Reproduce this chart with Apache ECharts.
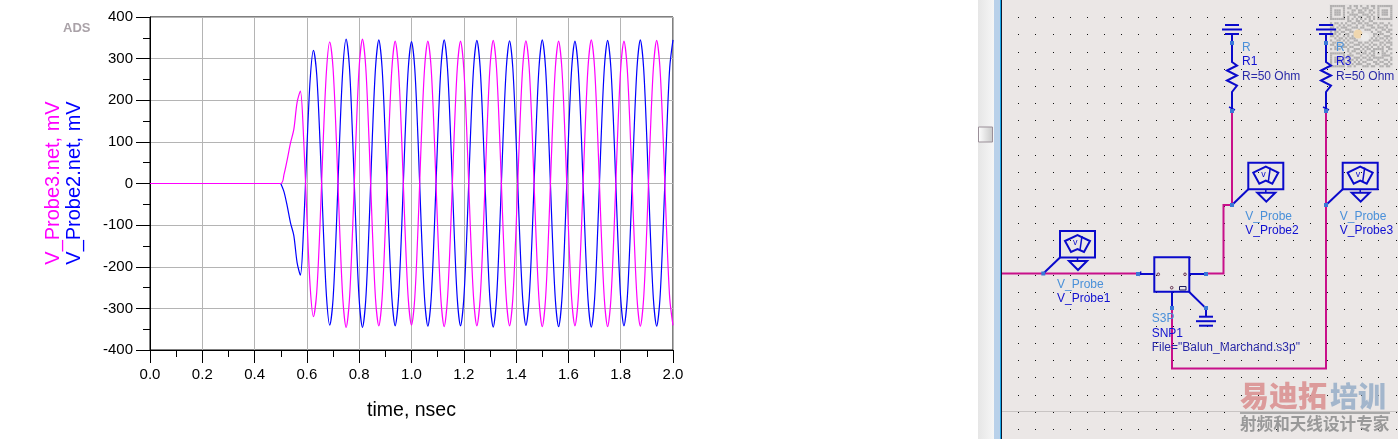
<!DOCTYPE html>
<html>
<head>
<meta charset="utf-8">
<style>html,body{margin:0;padding:0;background:#fff}#c{width:1398px;height:439px}</style>
<script src="https://cdn.jsdelivr.net/npm/echarts@6/dist/echarts.min.js"></script>
</head>
<body>
<div id="c"></div>
<script>
const xTicks = [0, 0.2, 0.4, 0.6, 0.8, 1, 1.2, 1.4, 1.6, 1.8, 2];
const timeNs = [0,
0.5,0.5125,0.525,0.5375,0.55,0.5625,0.575,0.5875,0.6,0.6125,
0.625,0.6375,0.65,0.6625,0.675,0.6875,0.7,0.7125,0.725,0.7375,
0.75,0.7625,0.775,0.7875,0.8,0.8125,0.825,0.8375,0.85,0.8625,
0.875,0.8875,0.9,0.9125,0.925,0.9375,0.95,0.9625,0.975,0.9875,
1,1.0125,1.025,1.0375,1.05,1.0625,1.075,1.0875,1.1,1.1125,
1.125,1.1375,1.15,1.1625,1.175,1.1875,1.2,1.2125,1.225,1.2375,
1.25,1.2625,1.275,1.2875,1.3,1.3125,1.325,1.3375,1.35,1.3625,
1.375,1.3875,1.4,1.4125,1.425,1.4375,1.45,1.4625,1.475,1.4875,
1.5,1.5125,1.525,1.5375,1.55,1.5625,1.575,1.5875,1.6,1.6125,
1.625,1.6375,1.65,1.6625,1.675,1.6875,1.7,1.7125,1.725,1.7375,
1.75,1.7625,1.775,1.7875,1.8,1.8125,1.825,1.8375,1.85,1.8625,
1.875,1.8875,1.9,1.9125,1.925,1.9375,1.95,1.9625,1.975,1.9875,
2];
const probe2mV = [0,
0,-20,-55,-95,-125,-190,-220,-105,85,250,
320,262,102,-104,-272,-340,-278,-108,104,276,
347,281,107,-107,-280,-346,-280,-107,107,279,
345,278,106,-105,-275,-342,-277,-106,105,275,
341,276,105,-106,-277,-343,-278,-106,106,278,
345,278,106,-105,-276,-342,-277,-106,106,278,
344,279,106,-107,-279,-345,-278,-106,106,277,
343,277,105,-105,-275,-341,-276,-106,106,278,
345,279,106,-106,-278,-344,-279,-107,106,276,
342,277,106,-107,-279,-345,-279,-106,106,278,
344,277,105,-105,-276,-342,-277,-106,107,279,
345,279,106,-106,-277,-343,-278,-106,106,279,
345];
const probe3mV = [0,
0,22,58,98,130,195,222,108,-80,-248,
-320,-262,-101,104,272,340,277,107,-105,-278,
-346,-280,-107,107,281,347,280,106,-106,-278,
-342,-276,-105,105,276,342,277,106,-106,-276,
-340,-275,-105,106,277,342,278,106,-106,-278,
-344,-277,-106,105,276,342,276,105,-105,-276,
-342,-277,-106,106,278,344,278,106,-106,-277,
-342,-276,-105,106,277,343,278,106,-106,-278,
-344,-278,-106,106,277,342,277,106,-106,-277,
-342,-277,-106,106,279,345,279,106,-106,-278,
-344,-278,-106,105,276,342,276,105,-106,-277,
-343,-278,-106,106,278,344,279,107,-106,-276,
-341];
const qrRows = [
"11111110010110100101101111111",
"10000010110010011100101000001",
"10111010001101101011001011101",
"10111010101001110010101011101",
"10111010011110011101001011101",
"10000010100101100110101000001",
"11111110101010101010101111111",
"00000000110011010011000000000",
"10110101001101101100110110010",
"01001010110010010111001001101",
"11010111001110110001101110100",
"00101001110001001110010011011",
"10110110011010000001001100110",
"01101001100100000000110110001",
"11010010101000000000101001110",
"00101101011100000001010110101",
"10011010100110000010111001010",
"01100101011001101101000110111",
"11011010100111010010110101001",
"00100111011000101101001010110",
"10111000100111010110111110011",
"00000000101100101001100010100",
"11111110010011011010101011001",
"10000010111000100101100011110",
"10111010100111011010111110001",
"10111010011010100111001001101",
"10111010110101011000110110010",
"10000010001011100110011001101",
"11111110110100011101100110110"];

const W = '#0a0acb', M = '#c8108a', LB = '#4a90d9', TB = '#1010d0', NB = '#3a78d8', DK = '#2a2aa8';
const g = [];
function poly(pts, color, w) { g.push({type:'polyline', silent:true, z:20, shape:{points:pts}, style:{stroke:color, lineWidth:w||2, fill:null}}); }
function box(x,y,w,h,fill,stroke,lw,z) { g.push({type:'rect', silent:true, z:z||20, shape:{x,y,width:w,height:h}, style:{fill:fill||'none', stroke:stroke||null, lineWidth:lw||0}}); }
function txt(x,y,s,color,size,extra) { g.push({type:'text', silent:true, z:(extra&&extra.z)||25, x, y, rotation:(extra&&extra.rot)||0, style:Object.assign({text:s, fill:color, font:(extra&&extra.font)||(size+'px "Liberation Sans"'), textVerticalAlign:'middle', textAlign:(extra&&extra.align)||'left'})}); }

// panel backgrounds
g.push({type:'rect', silent:true, z:1, shape:{x:978,y:0,width:16,height:439}, style:{fill:{type:'linear',x:0,y:0,x2:1,y2:0,colorStops:[{offset:0,color:'#e6e6e6'},{offset:1,color:'#f6f6f6'}]}}});
box(994,0,6,439,'#b9d1ea',null,0,1);
box(1000,0,1,439,'#18a8e8',null,0,1);
box(1001,0,1,439,'#101830',null,0,1);
box(1002,0,396,439,'#ebe7e6',null,0,1);
g.push({type:'rect', silent:true, z:2, shape:{x:978.5,y:127,width:14,height:15}, style:{fill:{type:'linear',x:0,y:0,x2:1,y2:0,colorStops:[{offset:0,color:'#ffffff'},{offset:1,color:'#c8c8c8'}]}, stroke:'#9a8f98', lineWidth:1}});
box(1002,411,396,1,'#c8c4c3',null,0,2);
// QR watermark
box(1329,4,64,66,'#e6e3e2',null,0,2);
qrRows.forEach((r,i)=>{ for(let j=0;j<r.length;j++){ if(r[j]==='1') box(1330+j*2.15,5+i*2.15,2.15,2.15,'#b2b0b0',null,0,3); } });
g.push({type:'circle', silent:true, z:4, shape:{cx:1358,cy:34,r:4.5}, style:{fill:'#efd6ae'}});
g.push({type:'circle', silent:true, z:4, shape:{cx:1365,cy:37,r:4}, style:{fill:'#ecebea'}});
// dot grid
for (let x=1018.3; x<1398; x+=17.15) for (let y=17.3; y<439; y+=17.15) box(Math.round(x),Math.round(y),1,1,'#111',null,0,5);

function ground(cx, y0) {
  poly([[cx-7,y0],[cx+7,y0]],W,2); poly([[cx-10,y0+4.5],[cx+10,y0+4.5]],W,2); poly([[cx-7,y0+9],[cx+7,y0+9]],W,2);
}
function resistor(cx, sym, sub) {
  ground(cx,25);
  poly([[cx,34],[cx,62],[cx+5,65.5],[cx-5,70.5],[cx+5,75.5],[cx-5,80.5],[cx+5,85.5],[cx,92],[cx,109]],W,2);
  poly([[cx-3,107],[cx+3,110]],W,1.5);
  box(cx-2,41,4,4,NB); box(cx-2,109,4,4,NB);
  txt(cx+10,48,'R',LB,12); txt(cx+10,62,sub,TB,12); txt(cx+10,77,'R=50 Ohm',DK,12);
}
function probe(bx, by, nx, ny, name) {
  box(bx,by,35,26.5,null,W,2);
  poly([[bx,by+26.5],[nx,ny]],W,2);
  poly([[bx+17.5,by+26.5],[bx+17.5,by+30]],W,1.5);
  g.push({type:'polygon',silent:true,z:20,shape:{points:[[bx+9,by+30],[bx+27,by+30],[bx+18,by+39]]},style:{fill:'none',stroke:W,lineWidth:2}});
  g.push({type:'polygon',silent:true,z:20,shape:{points:[[bx+5,by+10],[bx+17.5,by+4],[bx+30,by+10],[bx+24,by+21],[bx+17.5,by+18],[bx+11,by+21]]},style:{fill:'none',stroke:W,lineWidth:2}});
  poly([[bx+22,by+5],[bx+20,by+19]],W,1.5);
  txt(bx+13,by+12,'v',W,9);
  box(nx-2,ny-2,4,4,NB);
  txt(bx-3,by+54,'V_Probe',LB,12); txt(bx-3,by+68,name,TB,12);
}
// magenta wires
poly([[1232,111],[1232,205],[1223.5,205],[1223.5,273.5],[1206,273.5]],M,2);
poly([[1326,111],[1326,368.5],[1172,368.5],[1172,308]],M,2);
poly([[1002,273.5],[1136.5,273.5]],M,2);
resistor(1232,'R','R1');
resistor(1326,'R','R3');
probe(1248.3,162.7,1232,205,'V_Probe2');
probe(1342.7,162.7,1326,205,'V_Probe3');
probe(1060,231,1043.3,273.5,'V_Probe1');
// S3P block
box(1154.3,257.3,35,34.4,null,W,2);
poly([[1136.5,274],[1154,274]],W,2);
poly([[1189,274],[1206,274]],W,2);
poly([[1172,291.7],[1172,308]],W,2);
poly([[1189,291.7],[1206,308.3],[1206,316]],W,2);
ground(1206,316.7);
poly([[1139,276],[1141,271.5]],W,1.5);
[[1158.3,274.3],[1185,274.3],[1171.7,287.7]].forEach(p=>g.push({type:'circle',silent:true,z:21,shape:{cx:p[0],cy:p[1],r:1.3},style:{fill:'none',stroke:'#603050',lineWidth:1}}));
box(1179.5,286.5,6.5,3.5,null,'#1a1a60',1);
[[1136,272],[1204,272],[1170,306],[1204,306]].forEach(p=>box(p[0],p[1],4,4,NB));
txt(1151.7,319,'S3P',LB,12); txt(1151.7,333.5,'SNP1',TB,12); txt(1151.7,347.5,'File="Balun_Marchand.s3p"',DK,12);
// brand watermark
const brand = '"Noto Sans CJK SC"';
txt(1240,396,'易迪拓','#dc9b9b',0,{font:'900 29px '+brand,z:26});
txt(1330,396,'培训','#a3b6cc',0,{font:'900 28px '+brand,z:26});
box(1240,412,150,2,'#a8a8a8',null,0,26);
txt(1240,424,'射频和天线设计专家','#999999',0,{font:'700 16.6px '+brand,z:26});
// chart decorations
txt(63,28,'ADS','#aaa2a8',0,{font:'bold 13px "Liberation Sans"'});
txt(53,183,'V_Probe3.net, mV','#ff00ff',20,{rot:Math.PI/2,align:'center'});
txt(74,183,'V_Probe2.net, mV','#0000ff',20,{rot:Math.PI/2,align:'center'});

const chart = echarts.init(document.getElementById('c'), null, {renderer:'canvas'});
chart.setOption({
  animation:false,
  backgroundColor:'#fff',
  grid:{left:150,top:17,width:523,height:333,show:true,borderColor:'#000',borderWidth:1,backgroundColor:'transparent'},
  xAxis:{type:'value',min:0,max:2,interval:0.2,
    name:'time, nsec',nameLocation:'middle',nameGap:51,nameTextStyle:{fontFamily:'Liberation Sans',fontSize:19.5,color:'#000'},
    axisLine:{onZero:false,lineStyle:{color:'#000',width:1}},
    axisTick:{show:true,length:13,lineStyle:{color:'#000',width:1}},
    minorTick:{show:true,splitNumber:2,length:7,lineStyle:{color:'#000',width:1}},
    splitLine:{show:true,lineStyle:{color:'#b4b4b4',width:1}},
    axisLabel:{fontFamily:'Liberation Sans',fontSize:15,color:'#000',margin:17,
      formatter:v=>(xTicks.reduce((a,b)=>Math.abs(b-v)<Math.abs(a-v)?b:a)).toFixed(1)}},
  yAxis:{type:'value',min:-400,max:400,interval:100,
    axisLine:{onZero:false,lineStyle:{color:'#000',width:1}},
    axisTick:{show:true,length:14,lineStyle:{color:'#000',width:1}},
    minorTick:{show:true,splitNumber:2,length:7,lineStyle:{color:'#000',width:1}},
    splitLine:{show:true,lineStyle:{color:'#b4b4b4',width:1}},
    axisLabel:{fontFamily:'Liberation Sans',fontSize:15,color:'#000',margin:17}},
  series:[
    {name:'V_Probe2.net',type:'line',showSymbol:false,animation:false,z:3,clip:true,smooth:0.3,
      lineStyle:{color:'#0000ff',width:1.2},data:timeNs.map((t,i)=>[t,probe2mV[i]]).slice(1)},
    {name:'V_Probe3.net',type:'line',showSymbol:false,animation:false,z:4,clip:true,smooth:0.3,
      lineStyle:{color:'#ff00ff',width:1.2},data:timeNs.map((t,i)=>[t,probe3mV[i]])}
  ],
  graphic:g
});
</script>
</body>
</html>
